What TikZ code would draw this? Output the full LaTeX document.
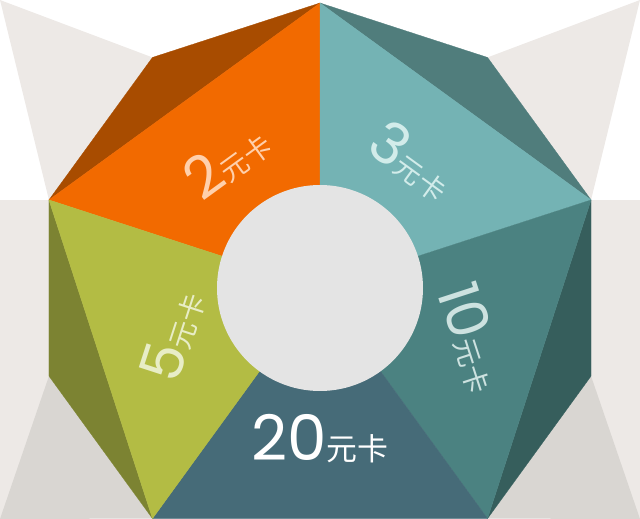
\documentclass[tikz,border=0pt]{standalone}
\usepackage{fontspec}
\setmainfont{Poppins}
\newfontfamily\cjkfont{Noto Sans CJK SC}
\usepackage{tikz}
\usetikzlibrary{calc}
\definecolor{bglight}{RGB}{237,233,230}
\definecolor{bgshade}{RGB}{217,214,210}
\definecolor{cardorange}{RGB}{242,106,0}
\definecolor{flaporange}{RGB}{168,76,0}
\definecolor{cardteal}{RGB}{116,179,180}
\definecolor{flapteal}{RGB}{80,125,124}
\definecolor{cardsea}{RGB}{75,130,129}
\definecolor{flapsea}{RGB}{54,94,92}
\definecolor{cardslate}{RGB}{70,107,120}
\definecolor{cardolive}{RGB}{179,188,68}
\definecolor{flapolive}{RGB}{124,131,50}
\definecolor{hubgrey}{RGB}{228,228,228}
\definecolor{txtorange}{RGB}{255,208,172}
\definecolor{txtteal}{RGB}{210,236,234}
\definecolor{txtsea}{RGB}{205,226,224}
\definecolor{txtolive}{RGB}{232,237,198}
\newcommand{\cardname}[3]{{\fontsize{#1}{#1}\selectfont #2}{\cjkfont\fontsize{#3}{#3}\selectfont 元卡}}
\tikzset{
  facet/.style={fill=#1, draw=#1, line width=0.3pt, line join=round},
  cardlabel/.style={inner sep=0pt, anchor=center}
}

\begin{document}
\begin{tikzpicture}[x=1bp, y=1bp]
  \useasboundingbox (-320,-231) rectangle (320,288);
  \clip (-320,-231) rectangle (320,288);
  \coordinate (o) at (0,0);
  \foreach \name/\ang in {ptop/90, pleft/162, pbl/234, pbr/306, pright/18,
                          tiptl/126, tiptr/54, tipr/-18, tipl/198}
    \coordinate (\name) at (\ang:285);

  % grey backdrop
  \fill[bglight] (-320,288) -- (tiptl) -- (pleft) -- cycle;
  \fill[bglight] (320,288) -- (tiptr) -- (pright) -- cycle;
  \fill[bglight] (-320,-231) rectangle (pleft);
  \fill[bglight] (pright) rectangle (320,-231);
  \fill[bgshade] (tipl) -- (pbl) -- (-320,-231) -- cycle;
  \fill[bgshade] (tipr) -- (pbr) -- (320,-231) -- cycle;

  % outer flaps
  \fill[facet=flaporange] (ptop) -- (tiptl) -- (pleft) -- cycle;
  \fill[facet=flapteal] (ptop) -- (tiptr) -- (pright) -- cycle;
  \fill[facet=flapsea] (pright) -- (tipr) -- (pbr) -- cycle;
  \fill[facet=flapolive] (pleft) -- (tipl) -- (pbl) -- cycle;

  % card wedges
  \fill[facet=cardorange] (o) -- (ptop) -- (pleft) -- cycle;
  \fill[facet=cardteal] (o) -- (ptop) -- (pright) -- cycle;
  \fill[facet=cardsea] (o) -- (pright) -- (pbr) -- cycle;
  \fill[facet=cardslate] (o) -- (pbr) -- (pbl) -- cycle;
  \fill[facet=cardolive] (o) -- (pbl) -- (pleft) -- cycle;
  \fill[hubgrey] (o) circle (103);

  \node[cardlabel, text=txtorange, rotate=36] (two) at (126:158) {\cardname{58}{2}{28}};
  \node[cardlabel, text=txtteal, rotate=-36] (three) at (54:157) {\cardname{58}{3}{28}};
  \node[cardlabel, text=txtsea, rotate=-72] (ten) at (-18:160) {\cardname{57}{10}{28}};
  \node[cardlabel, text=white] (twenty) at (270:151) {\cardname{63}{20}{31}};
  \node[cardlabel, text=txtolive, rotate=72] (five) at (198:155) {\cardname{58}{5}{28}};
\end{tikzpicture}
\end{document}
